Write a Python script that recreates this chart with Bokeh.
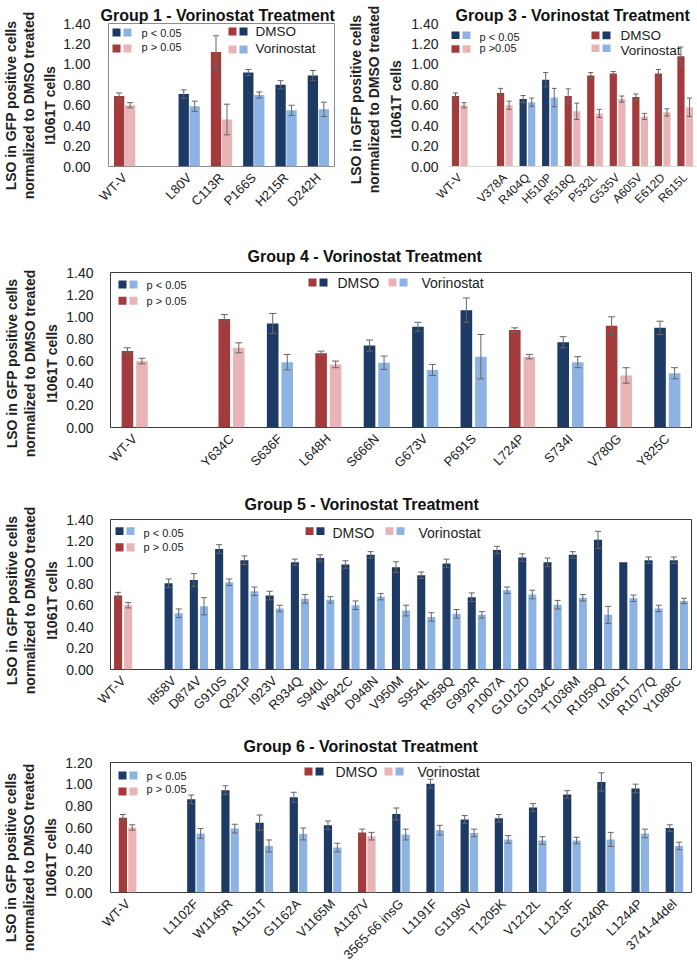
import math
import pandas as pd
from bokeh.plotting import figure
from bokeh.models import (ColumnDataSource, Whisker, TeeHead, FactorRange, Range1d,
                          FixedTicker, NumeralTickFormatter, Label, BoxAnnotation, Title)
from bokeh.transform import dodge
from bokeh.layouts import column, row
from bokeh.embed import file_html
from bokeh.resources import INLINE

# ---------------- data ----------------
y_ticks_14 = [0.0, 0.2, 0.4, 0.6, 0.8, 1.0, 1.2, 1.4]
y_ticks_12 = [0.0, 0.2, 0.4, 0.6, 0.8, 1.0, 1.2]

g1_labels = ["WT-V", "L80V", "C113R", "P166S", "H215R", "D242H"]
g1_dmso = [0.69, 0.71, 1.12, 0.92, 0.80, 0.89]
g1_dmso_err = [0.03, 0.04, 0.16, 0.03, 0.04, 0.05]
g1_vor = [0.60, 0.59, 0.46, 0.70, 0.55, 0.56]
g1_vor_err = [0.025, 0.05, 0.15, 0.03, 0.05, 0.07]
g1_sig = [False, True, False, True, True, True]

g3_labels = ["WT-V", "V378A", "R404Q", "H510P", "R518Q", "P532L", "G535V", "A605V", "E612D", "R615L"]
g3_dmso = [0.69, 0.72, 0.66, 0.85, 0.69, 0.89, 0.91, 0.68, 0.91, 1.08]
g3_dmso_err = [0.03, 0.045, 0.035, 0.07, 0.07, 0.03, 0.02, 0.03, 0.04, 0.09]
g3_vor = [0.60, 0.60, 0.63, 0.675, 0.54, 0.52, 0.66, 0.49, 0.53, 0.58]
g3_vor_err = [0.025, 0.04, 0.04, 0.09, 0.08, 0.04, 0.03, 0.03, 0.035, 0.09]
g3_sig = [False, False, True, True, False, False, False, False, False, False]

g4_labels = ["WT-V", "Y634C", "S636F", "L648H", "S666N", "G673V", "P691S", "L724P", "S734I", "V780G", "Y825C"]
g4_dmso = [0.69, 0.98, 0.94, 0.67, 0.74, 0.91, 1.06, 0.88, 0.77, 0.92, 0.90]
g4_dmso_err = [0.03, 0.04, 0.09, 0.02, 0.05, 0.04, 0.11, 0.02, 0.05, 0.08, 0.06]
g4_vor = [0.60, 0.72, 0.59, 0.57, 0.585, 0.52, 0.64, 0.64, 0.59, 0.47, 0.49]
g4_vor_err = [0.025, 0.045, 0.07, 0.03, 0.06, 0.05, 0.20, 0.02, 0.05, 0.07, 0.05]
g4_sig = [False, False, True, False, True, True, True, False, True, False, True]

g5_labels = ["WT-V", "I858V", "D874V", "G910S", "Q921P", "I923V", "R934Q", "S940L", "W942C",
             "D948N", "V950M", "S954L", "R958Q", "G992R", "P1007A", "G1012D", "G1034C",
             "T1036M", "R1059Q", "I1061T", "R1077Q", "Y1088C"]
g5_dmso = [0.69, 0.805, 0.835, 1.125, 1.02, 0.69, 1.00, 1.04, 0.98, 1.07, 0.955, 0.88, 0.99,
           0.675, 1.115, 1.045, 1.00, 1.07, 1.21, 1.00, 1.02, 1.02]
g5_dmso_err = [0.03, 0.04, 0.06, 0.04, 0.04, 0.04, 0.03, 0.03, 0.035, 0.03, 0.05, 0.03, 0.04,
               0.04, 0.035, 0.035, 0.04, 0.03, 0.08, 0.0, 0.03, 0.03]
g5_vor = [0.60, 0.525, 0.59, 0.815, 0.73, 0.57, 0.66, 0.65, 0.60, 0.68, 0.55, 0.49, 0.52,
          0.51, 0.74, 0.70, 0.605, 0.67, 0.51, 0.665, 0.57, 0.64]
g5_vor_err = [0.025, 0.04, 0.08, 0.03, 0.04, 0.03, 0.04, 0.03, 0.04, 0.03, 0.05, 0.04, 0.04,
              0.03, 0.03, 0.04, 0.04, 0.03, 0.08, 0.03, 0.03, 0.025]
g5_sig = [False] + [True] * 21

g6_labels = ["WT-V", "L1102F", "W1145R", "A1151T", "G1162A", "V1165M", "A1187V", "3565-66 insG",
             "L1191F", "G1195V", "T1205K", "V1212L", "L1213F", "G1240R", "L1244P", "3741-44del"]
g6_dmso = [0.69, 0.86, 0.945, 0.645, 0.88, 0.62, 0.555, 0.725, 1.005, 0.675, 0.685, 0.785,
           0.905, 1.02, 0.96, 0.595]
g6_dmso_err = [0.03, 0.04, 0.04, 0.07, 0.045, 0.04, 0.03, 0.055, 0.04, 0.035, 0.035, 0.035,
               0.035, 0.085, 0.04, 0.03]
g6_vor = [0.60, 0.545, 0.59, 0.43, 0.54, 0.415, 0.52, 0.535, 0.575, 0.55, 0.49, 0.48, 0.48,
          0.49, 0.545, 0.43]
g6_vor_err = [0.025, 0.045, 0.04, 0.055, 0.055, 0.04, 0.035, 0.05, 0.045, 0.035, 0.035, 0.035,
              0.03, 0.065, 0.04, 0.035]
g6_sig = [False, True, True, True, True, True, False, True, True, True, True, True, True, True, True, True]

AXIS_TITLE_LINES = ["LSO in GFP positive cells", "normalized to DMSO treated", "I1061T cells"]

# ---------------- style ----------------
RED = "#A33B3D"
PINK = "#E8B4B5"
NAVY = "#1D3A64"
LBLUE = "#8DB3E2"
ERR = "#666666"
TXT = "#222222"
FONT = "Liberation Sans"

# Arial/Liberation Sans Bold advance widths (1/1000 em) for centring the axis-title lines
BOLD_W = {" ": 278, "L": 611, "S": 667, "O": 778, "i": 278, "n": 611, "G": 778, "F": 611,
          "P": 667, "p": 611, "o": 611, "s": 556, "t": 333, "v": 556, "e": 556, "c": 556,
          "l": 278, "r": 389, "m": 889, "a": 556, "z": 500, "d": 611, "D": 722, "M": 833,
          "I": 278, "1": 556, "0": 556, "6": 556, "T": 611}


def text_len(s, size):
    return sum(BOLD_W.get(ch, 556) for ch in s) / 1000.0 * size


def make_panel(title, labels, dmso, dmso_err, vor, vor_err, sig, ticks, g):
    factors = [labels[0], " "] + labels[1:]
    df = pd.DataFrame(dict(cat=labels, dmso=dmso, dmso_err=dmso_err, vor=vor,
                           vor_err=vor_err, sig=sig))
    df["dmso_color"] = [NAVY if s else RED for s in df["sig"]]
    df["vor_color"] = [LBLUE if s else PINK for s in df["sig"]]
    src = ColumnDataSource(df)

    p = figure(x_range=FactorRange(factors=factors), y_range=Range1d(ticks[0], ticks[-1]),
               width=g["w"], height=g["h"], min_border_left=g["bl"], min_border_right=g["br"],
               min_border_top=g["bt"], min_border_bottom=g["bb"], title_location=None,
               toolbar_location=None, output_backend="svg")
    p.background_fill_color = "white"
    p.border_fill_color = "white"
    p.xgrid.grid_line_color = None
    p.ygrid.grid_line_color = None
    p.outline_line_color = g["outline"]
    p.outline_line_width = 1

    off, bw = g["off"], g["bw"]
    p.vbar(x=dodge("cat", -off, range=p.x_range), top="dmso", width=bw, source=src,
           fill_color="dmso_color", line_color=None)
    p.vbar(x=dodge("cat", off, range=p.x_range), top="vor", width=bw, source=src,
           fill_color="vor_color", line_color=None)

    for col, sgn in (("dmso", -1), ("vor", 1)):
        d = df[df[col + "_err"] > 0]
        ws = ColumnDataSource(dict(cat=list(d["cat"]),
                                   lo=list(d[col] - d[col + "_err"]),
                                   hi=list(d[col] + d[col + "_err"])))
        w = Whisker(base=dodge("cat", sgn * off, range=p.x_range), upper="hi", lower="lo",
                    source=ws, line_color=ERR, line_width=1, level="annotation",
                    upper_head=TeeHead(size=g["cap"], line_color=ERR, line_width=1),
                    lower_head=TeeHead(size=g["cap"], line_color=ERR, line_width=1))
        p.add_layout(w)

    # y axis
    ya = p.yaxis[0]
    ya.ticker = FixedTicker(ticks=ticks)
    ya.formatter = NumeralTickFormatter(format="0.00")
    ya.major_tick_line_color = None
    ya.minor_tick_line_color = None
    ya.axis_line_color = None
    ya.major_label_text_font = FONT
    ya.major_label_text_font_size = "14px"
    ya.major_label_text_color = TXT
    ya.major_label_standoff = g["mls"]

    # y-axis title: three side titles, innermost line first, each centred on a common point
    for i, line in enumerate(reversed(AXIS_TITLE_LINES)):
        L = text_len(line, 14)
        p.add_layout(Title(text=line, align="left", offset=g["yd"] - L / 2.0,
                           text_font=FONT, text_font_size="14px", text_font_style="bold",
                           text_color=TXT, standoff=g["tsd"] if i == 0 else 0,
                           text_line_height=1.0), "left")

    # x axis
    xa = p.xaxis[0]
    xa.major_tick_line_color = None
    xa.minor_tick_line_color = None
    xa.axis_line_color = g["xline"]
    xa.major_label_orientation = math.pi / 4
    xa.major_label_text_font = FONT
    xa.major_label_text_font_size = g["xfs"]
    xa.major_label_text_color = TXT
    xa.major_label_standoff = 3

    # title (optionally lifted by a small spacer between it and the frame)
    if g["spacer"]:
        p.add_layout(Title(text=" ", text_font_size=g["spacer"], standoff=0,
                           text_line_height=1.0), "above")
    p.add_layout(Title(text=title, align="left", offset=g["toff"], text_font=FONT,
                       text_font_size="16px", text_font_style="bold", text_color="#111111",
                       standoff=0), "above")
    return p


def pair(p, x0, ytop, ybot, c1, c2, w=8, gap=3):
    for i, c in enumerate((c1, c2)):
        left = x0 + i * (w + gap)
        p.add_layout(BoxAnnotation(left=left, right=left + w, left_units="screen",
                                   right_units="screen", top=ytop, bottom=ybot,
                                   fill_color=c, fill_alpha=1.0, line_color=None,
                                   level="annotation"))


def txt(p, x, y, text, size):
    p.add_layout(Label(x=x, y=y, x_units="screen", y_units="data", text=text,
                       text_font=FONT, text_font_size=size, text_color=TXT,
                       text_baseline="middle", text_align="left"))


# ---------------- panels ----------------
f1 = make_panel("Group 1 - Vorinostat Treatment", g1_labels, g1_dmso, g1_dmso_err, g1_vor,
                g1_vor_err, g1_sig, y_ticks_14,
                dict(w=345, h=245, bl=100, br=11, bt=23, bb=79, outline="#8c8c8c",
                     off=0.17, bw=0.32, cap=6, mls=12, tsd=6, xline=None, xfs="13px",
                     toff=-8, yd=61, spacer=None))
pair(f1, 4, 1.351, 1.273, NAVY, LBLUE)
pair(f1, 4, 1.195, 1.117, RED, PINK)
txt(f1, 33, 1.303, "p < 0.05", "11px")
txt(f1, 33, 1.170, "p > 0.05", "11px")
pair(f1, 120, 1.361, 1.283, RED, NAVY)
pair(f1, 120, 1.185, 1.107, PINK, LBLUE)
txt(f1, 147, 1.322, "DMSO", "13.5px")
txt(f1, 147, 1.156, "Vorinostat", "13.5px")

f3 = make_panel("Group 3 - Vorinostat Treatment", g3_labels, g3_dmso, g3_dmso_err, g3_vor,
                g3_vor_err, g3_sig, y_ticks_14,
                dict(w=352, h=245, bl=88, br=1, bt=19, bb=73, outline=None,
                     off=0.19, bw=0.32, cap=5, mls=4, tsd=9, xline="#d9d9d9", xfs="12px",
                     toff=7, yd=67, spacer=None))
pair(f3, 3, 1.322, 1.249, NAVY, LBLUE)
pair(f3, 3, 1.186, 1.114, RED, PINK)
txt(f3, 31, 1.270, "p < 0.05", "11px")
txt(f3, 31, 1.159, "p >0.05", "11px")
pair(f3, 143, 1.322, 1.247, RED, NAVY)
pair(f3, 143, 1.195, 1.120, PINK, LBLUE)
txt(f3, 172, 1.280, "DMSO", "13.5px")
txt(f3, 172, 1.135, "Vorinostat", "13.5px")

f4 = make_panel("Group 4 - Vorinostat Treatment", g4_labels, g4_dmso, g4_dmso_err, g4_vor,
                g4_vor_err, g4_sig, y_ticks_14,
                dict(w=697, h=248, bl=93, br=6, bt=23, bb=66, outline="#3a3a3a",
                     off=0.15, bw=0.24, cap=7, mls=11, tsd=8, xline=None, xfs="13px",
                     toff=137, yd=64, spacer="5px"))
pair(f4, 8, 1.327, 1.255, NAVY, LBLUE)
pair(f4, 8, 1.182, 1.109, RED, PINK)
txt(f4, 36, 1.291, "p < 0.05", "11px")
txt(f4, 36, 1.145, "p > 0.05", "11px")
pair(f4, 198, 1.345, 1.273, RED, NAVY)
txt(f4, 227, 1.309, "DMSO", "14px")
pair(f4, 278, 1.345, 1.273, PINK, LBLUE)
txt(f4, 311, 1.309, "Vorinostat", "14px")

f5 = make_panel("Group 5 - Vorinostat Treatment", g5_labels, g5_dmso, g5_dmso_err, g5_vor,
                g5_vor_err, g5_sig, y_ticks_14,
                dict(w=697, h=242, bl=96, br=6, bt=20, bb=66, outline="#3a3a3a",
                     off=0.2, bw=0.32, cap=6, mls=11, tsd=8, xline=None, xfs="13px",
                     toff=134, yd=69, spacer="4px"))
pair(f5, 5, 1.327, 1.256, NAVY, LBLUE)
pair(f5, 5, 1.179, 1.102, RED, PINK)
txt(f5, 33, 1.271, "p < 0.05", "11px")
txt(f5, 33, 1.142, "p > 0.05", "11px")
pair(f5, 195, 1.327, 1.256, RED, NAVY)
txt(f5, 222, 1.270, "DMSO", "14px")
pair(f5, 275, 1.327, 1.256, PINK, LBLUE)
txt(f5, 308, 1.270, "Vorinostat", "14px")

f6 = make_panel("Group 6 - Vorinostat Treatment", g6_labels, g6_dmso, g6_dmso_err, g6_vor,
                g6_vor_err, g6_sig, y_ticks_12,
                dict(w=697, h=235, bl=97, br=6, bt=23, bb=77, outline="#3a3a3a",
                     off=0.137, bw=0.24, cap=6, mls=12, tsd=8, xline=None, xfs="13px",
                     toff=133, yd=35, spacer="5px"))
pair(f6, 8, 1.117, 1.043, NAVY, LBLUE)
pair(f6, 8, 0.970, 0.896, RED, PINK)
txt(f6, 36, 1.080, "p < 0.05", "11px")
txt(f6, 36, 0.960, "p > 0.05", "11px")
pair(f6, 194, 1.154, 1.080, RED, NAVY)
txt(f6, 225, 1.108, "DMSO", "14px")
pair(f6, 274, 1.154, 1.080, PINK, LBLUE)
txt(f6, 307, 1.108, "Vorinostat", "14px")

layout = column(row(f1, f3), f4, f5, f6)

with open("out.html", "w") as fh:
    fh.write(file_html(layout, INLINE))
